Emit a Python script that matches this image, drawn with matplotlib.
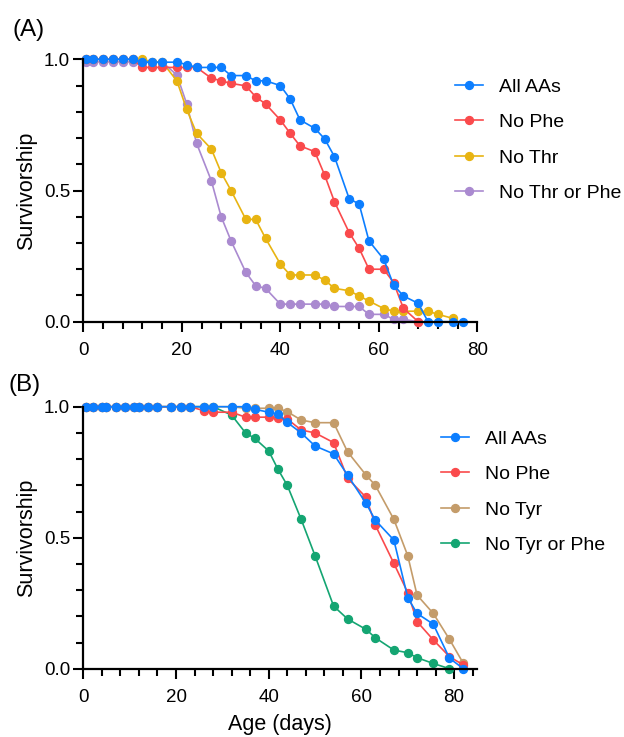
import matplotlib
matplotlib.use("Agg")
import matplotlib.pyplot as plt
from matplotlib.ticker import MultipleLocator

plt.rcParams['font.family'] = ['Liberation Sans', 'DejaVu Sans']

# =========================
# DATA - panel A
# =========================
a_blue_days = [0.5, 2, 4, 6, 8, 10, 12, 14, 16, 19, 21, 23, 26, 28, 30, 33, 35, 37, 40,
               42, 44, 47, 49, 51, 54, 56, 58, 61, 63, 65, 68, 70, 72, 75, 77]
a_blue = [1.0, 1.0, 1.0, 1.0, 1.0, 1.0, 0.989, 0.989, 0.989, 0.989, 0.98, 0.969, 0.969, 0.969,
          0.938, 0.938, 0.918, 0.918, 0.90, 0.849, 0.769, 0.737, 0.697, 0.629, 0.468, 0.449,
          0.308, 0.238, 0.14, 0.098, 0.07, 0.0, 0.0, 0.0, 0.0]

a_red_days = [0.5, 2, 4, 6, 8, 10, 12, 14, 16, 19, 21, 23, 26, 28, 30, 33, 35, 37, 40,
              42, 44, 47, 49, 51, 54, 56, 58, 61, 63, 65, 68]
a_red = [1.0, 1.0, 1.0, 1.0, 1.0, 1.0, 0.969, 0.969, 0.969, 0.969, 0.969, 0.969, 0.928, 0.918,
         0.908, 0.899, 0.857, 0.83, 0.769, 0.718, 0.67, 0.648, 0.559, 0.457, 0.339, 0.28,
         0.2, 0.2, 0.149, 0.051, 0.0]

a_yel_days = [0.5, 2, 4, 6, 8, 10, 12, 14, 16, 19, 21, 23, 26, 28, 30, 33, 35, 37, 40,
              42, 44, 47, 49, 51, 54, 56, 58, 61, 63, 65, 68, 70, 72, 75]
a_yel = [1.0, 1.0, 1.0, 1.0, 1.0, 1.0, 1.0, 0.99, 0.99, 0.918, 0.809, 0.718, 0.658, 0.568,
         0.5, 0.39, 0.39, 0.318, 0.22, 0.178, 0.178, 0.178, 0.159, 0.127, 0.118, 0.098,
         0.079, 0.05, 0.04, 0.04, 0.04, 0.04, 0.028, 0.013]

a_pur_days = [0.5, 2, 4, 6, 8, 10, 12, 14, 16, 19, 21, 23, 26, 28, 30, 33, 35, 37, 40,
              42, 44, 47, 49, 51, 54, 56, 58, 61, 63, 65, 68]
a_pur = [0.99, 0.99, 0.99, 0.99, 0.99, 0.99, 0.99, 0.99, 0.99, 0.94, 0.83, 0.68, 0.537, 0.4,
         0.308, 0.188, 0.137, 0.127, 0.067, 0.067, 0.067, 0.067, 0.067, 0.058, 0.058, 0.058,
         0.028, 0.028, 0.009, 0.009, 0.0]

# =========================
# DATA - panel B
# =========================
b_days = [0.5, 2, 4, 5, 7, 9, 11, 12, 14, 16, 19, 21, 23, 26, 28, 32, 35, 37, 40,
          42, 44, 47, 50, 54, 57, 61, 63, 67, 70, 72, 75.5, 79, 82]
b_blue = [1.0] * 17 + [0.99, 0.979, 0.971, 0.94, 0.90, 0.85, 0.82, 0.739, 0.631, 0.567,
                       0.491, 0.271, 0.211, 0.17, 0.04, 0.0]
b_red = [1.0] * 13 + [0.985, 0.979, 0.979, 0.96, 0.96, 0.96, 0.955, 0.953, 0.911, 0.90,
                      0.863, 0.727, 0.654, 0.548, 0.402, 0.29, 0.18, 0.11, 0.046, 0.014]
b_tan = [1.0] * 16 + [0.994, 0.994, 0.994, 0.994, 0.981, 0.949, 0.939, 0.939, 0.828, 0.739,
                      0.70, 0.57, 0.431, 0.281, 0.211, 0.112, 0.02]
b_green_days = b_days[:-1]
b_green = [1.0] * 15 + [0.968, 0.90, 0.879, 0.831, 0.761, 0.70, 0.57, 0.431, 0.239, 0.19,
                        0.15, 0.118, 0.071, 0.061, 0.042, 0.02, 0.0]

BLUE = '#0C7EFF'
RED = '#FA4A4C'
YEL = '#E8B412'
PUR = '#AA8AD0'
TAN = '#C49C6A'
GRN = '#14A572'

fig = plt.figure(figsize=(6.24, 7.37), dpi=100)
W, H = 624, 737

axA = fig.add_axes([83.3 / W, (H - 321.7) / H, 394 / W, 262.4 / H])
axB = fig.add_axes([83.3 / W, (H - 668.7) / H, 394 / W, 262 / H])


def style(ax, xmax):
    ax.set_xlim(0, xmax)
    ax.set_ylim(0, 1)
    for s in ['top', 'right']:
        ax.spines[s].set_visible(False)
    for s in ['left', 'bottom']:
        ax.spines[s].set_linewidth(1.6)
    ax.xaxis.set_major_locator(MultipleLocator(20))
    ax.xaxis.set_minor_locator(MultipleLocator(4))
    ax.yaxis.set_major_locator(MultipleLocator(0.5))
    ax.yaxis.set_minor_locator(MultipleLocator(0.1))
    ax.yaxis.set_major_formatter(plt.FuncFormatter(lambda v, p: f"{v:.1f}"))
    ax.tick_params(which='major', length=7.5, width=1.5, labelsize=13.5)
    ax.tick_params(which='minor', length=5, width=1.5)
    ax.tick_params(axis='x', which='major', pad=7)
    ax.tick_params(axis='y', which='major', pad=2)
    ax.set_ylabel("Survivorship", fontsize=15.5, labelpad=5)


def draw(ax, x, y, c, label):
    ax.plot(x, y, '-o', color=c, lw=1.2, ms=5.7, label=label, clip_on=False)


# panel A: first series drawn on top
draw(axA, a_pur_days, a_pur, PUR, "No Thr or Phe")
draw(axA, a_yel_days, a_yel, YEL, "No Thr")
draw(axA, a_red_days, a_red, RED, "No Phe")
draw(axA, a_blue_days, a_blue, BLUE, "All AAs")
style(axA, 80)

# panel B
draw(axB, b_green_days, b_green, GRN, "No Tyr or Phe")
draw(axB, b_days, b_tan, TAN, "No Tyr")
draw(axB, b_days, b_red, RED, "No Phe")
draw(axB, b_days, b_blue, BLUE, "All AAs")
style(axB, 85)
axB.set_xlabel("Age (days)", fontsize=15.5, labelpad=6)

for ax, x0, y0 in [(axA, 455, 78), (axB, 441, 430)]:
    h, l = ax.get_legend_handles_labels()
    ax.legend(h[::-1], l[::-1], loc='upper left', bbox_to_anchor=(x0 / W, 1 - y0 / H),
              bbox_transform=fig.transFigure, frameon=False, fontsize=14,
              handlelength=1.43, handletextpad=0.82, labelspacing=0.92,
              borderaxespad=0, borderpad=0)

fig.text(12 / W, 1 - 30 / H, "(A)", fontsize=17.5, va='center', ha='left')
fig.text(9 / W, 1 - 385 / H, "(B)", fontsize=17.5, va='center', ha='left')

fig.savefig("out.png", dpi=100)
